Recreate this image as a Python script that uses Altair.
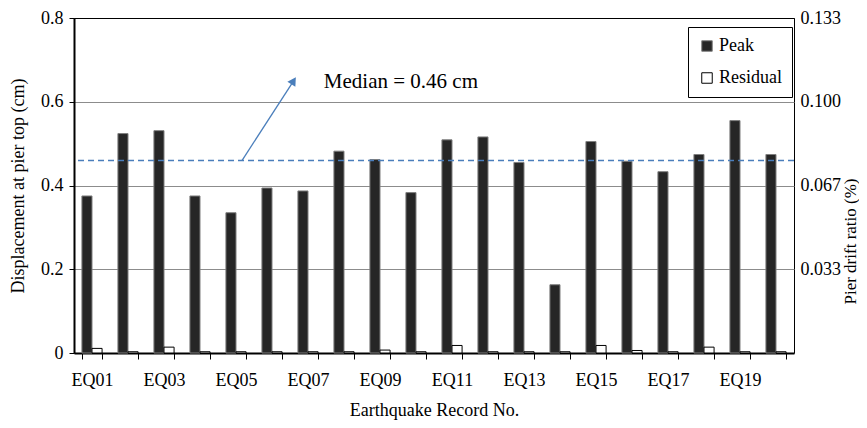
import altair as alt
import pandas as pd

records = ["EQ01", "EQ02", "EQ03", "EQ04", "EQ05", "EQ06", "EQ07", "EQ08", "EQ09", "EQ10",
           "EQ11", "EQ12", "EQ13", "EQ14", "EQ15", "EQ16", "EQ17", "EQ18", "EQ19", "EQ20"]
peak = [0.375, 0.524, 0.531, 0.375, 0.335, 0.394, 0.387, 0.482, 0.462, 0.383,
        0.509, 0.516, 0.455, 0.163, 0.505, 0.458, 0.433, 0.474, 0.555, 0.474]
residual = [0.011, 0.003, 0.014, 0.003, 0.003, 0.003, 0.003, 0.003, 0.007, 0.003,
            0.018, 0.003, 0.003, 0.003, 0.018, 0.006, 0.003, 0.014, 0.003, 0.003]
series = ["Peak", "Residual"]
median_value = 0.46
median_label = "Median = 0.46 cm"
arrow_x = [4.67, 6.1]
arrow_y = [0.46, 0.65]
label_x = [6.94]
label_y = [0.648]
left_ticks = [0, 0.2, 0.4, 0.6, 0.8]
drift_factor = 6.0  # drift ratio (%) = displacement / 6

rows = []
for r, p, s in zip(records, peak, residual):
    rows.append({"Record": r, "Series": "Peak", "Value": p})
    rows.append({"Record": r, "Series": "Residual", "Value": s})
df = pd.DataFrame(rows)
drift_df = pd.DataFrame({"Record": records, "Drift": [p / drift_factor for p in peak]})
median_df = pd.DataFrame({"Value": [median_value]})
arrow_df = pd.DataFrame({"ax": arrow_x, "Value": arrow_y, "order": [0, 1]})
head_df = pd.DataFrame({"ax": [arrow_x[-1]], "Value": [arrow_y[-1]]})
label_df = pd.DataFrame({"ax": label_x, "Value": label_y, "text": [median_label]})

FONT = "Liberation Serif"
BLUE = "#4a7ebb"
W = 720
H = 335
yscale = alt.Scale(domain=[0, 0.8], nice=False, zero=True)
xq = alt.Scale(domain=[0, 20], nice=False, zero=True)

bars = alt.Chart(df).mark_bar(strokeWidth=1).encode(
    x=alt.X("Record:N", sort=records,
            scale=alt.Scale(paddingInner=0.44, paddingOuter=0.22),
            axis=alt.Axis(title="Earthquake Record No.", labelAngle=0, tickBand="extent",
                          labelExpr="parseInt(substring(datum.value, 2)) % 2 == 1 ? datum.value : ''",
                          tickSize=6, tickColor="black", tickWidth=1,
                          domainColor="black", domainWidth=2,
                          labelFontSize=18, labelPadding=12, labelColor="black",
                          titleFontSize=18, titleFontWeight="normal", titleColor="black",
                          titleY=57, titleBaseline="middle", grid=False)),
    xOffset=alt.XOffset("Series:N", sort=series, scale=alt.Scale(paddingInner=0, paddingOuter=0)),
    y=alt.Y("Value:Q", scale=yscale,
            axis=alt.Axis(title="Displacement at pier top (cm)", values=left_ticks,
                          labelExpr="datum.value == 0 ? '0' : format(datum.value, '.1f')",
                          tickSize=5, tickColor="black", domainColor="black", domainWidth=2,
                          labelFontSize=18, labelPadding=6, labelColor="black",
                          grid=True,
                          gridColor={"condition": {"test": "datum.value >= 0.79", "value": "black"},
                                     "value": "#8c8c8c"},
                          gridWidth=1,
                          titleFontSize=18, titleFontWeight="normal", titleColor="black",
                          titleAngle=270, titleAlign="center", titleBaseline="middle",
                          titleX=-56, titleY=H / 2)),
    fill=alt.Fill("Series:N", sort=series,
                  scale=alt.Scale(domain=series, range=["#262626", "white"]),
                  legend=alt.Legend(title=None, orient="none", legendX=614, legendY=9,
                                    symbolType="square", symbolSize=110,
                                    symbolStrokeColor="black", symbolStrokeWidth=1,
                                    labelFontSize=18, labelColor="black", labelOffset=3,
                                    rowPadding=14, padding=10,
                                    strokeColor="black", fillColor="white")),
    stroke=alt.Stroke("Series:N", sort=series,
                      scale=alt.Scale(domain=series, range=["#7f7f7f", "black"]),
                      legend=None),
)

median = alt.Chart(median_df).mark_rule(color=BLUE, strokeDash=[6, 4], strokeWidth=1.5).encode(
    y=alt.Y("Value:Q", scale=yscale, axis=None)
)

arrow = alt.Chart(arrow_df).mark_line(color=BLUE, strokeWidth=1.3).encode(
    x=alt.X("ax:Q", scale=xq, axis=None),
    y=alt.Y("Value:Q", scale=yscale, axis=None),
    order="order:Q",
)

head = alt.Chart(head_df).mark_point(shape="triangle-up", filled=True, color=BLUE,
                                     size=90, angle=33, opacity=1).encode(
    x=alt.X("ax:Q", scale=xq, axis=None),
    y=alt.Y("Value:Q", scale=yscale, axis=None),
)

label = alt.Chart(label_df).mark_text(align="left", baseline="middle", fontSize=21,
                                      font=FONT, color="black").encode(
    x=alt.X("ax:Q", scale=xq, axis=None),
    y=alt.Y("Value:Q", scale=yscale, axis=None),
    text="text:N",
)

right = alt.Chart(drift_df).mark_rule(opacity=0).encode(
    y=alt.Y("Drift:Q", scale=alt.Scale(domain=[0, 0.8 / drift_factor], nice=False, zero=True),
            axis=alt.Axis(orient="right", title="Pier drift ratio (%)",
                          values=[v / drift_factor for v in left_ticks[1:]],
                          format=".3f", ticks=False, domain=False, grid=False,
                          labelFontSize=18, labelPadding=6, labelColor="black",
                          titleFontSize=17, titleFontWeight="normal", titleColor="black",
                          titleAngle=270, titleAlign="center", titleBaseline="middle",
                          titleX=56, titleY=223)),
)

chart = alt.layer(bars, median, arrow, head, label, right).resolve_scale(
    x="independent", y="independent"
).properties(
    width=W, height=H,
    autosize=alt.AutoSizeParams(type="none"),
    padding={"left": 66, "top": 10, "right": 65, "bottom": 67},
).configure(font=FONT).configure_view(stroke="black", strokeWidth=1)

chart.save("out.html", embed_options={"renderer": "svg", "actions": False})
